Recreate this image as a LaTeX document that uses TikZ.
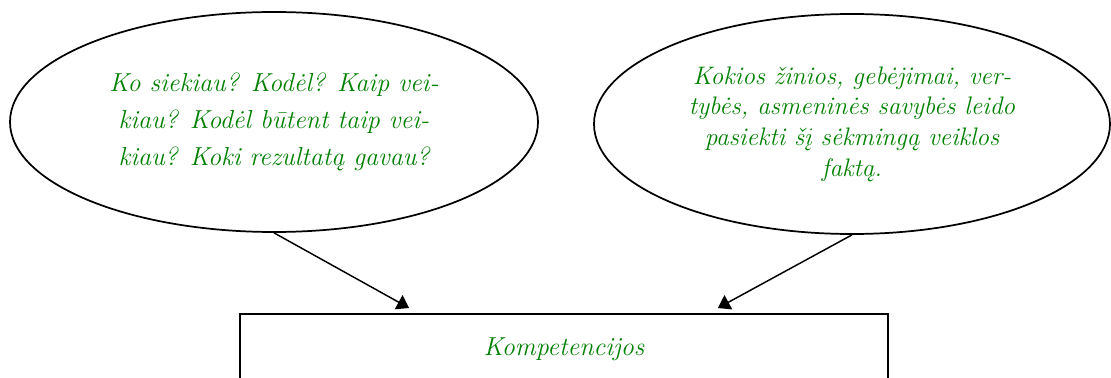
\documentclass[tikz,border=0pt]{standalone}
\usepackage{fontspec}
\usetikzlibrary{shapes.geometric, arrows.meta, positioning, calc}
\definecolor{textgreen}{RGB}{0, 128, 0}

\begin{document}
\begin{tikzpicture}[
        x=0.75pt, y=-0.75pt,
        bubble/.style={ellipse, draw=black, line width=1.3pt, inner sep=0pt, minimum height=165pt, align=center, text=textgreen, font=\itshape\fontsize{19.5}{28}\selectfont},
        frame/.style={rectangle, draw=black, line width=1.3pt, inner sep=0pt, anchor=north, text=textgreen, font=\itshape\fontsize{19.5}{23}\selectfont},
        arrow/.style={-{Triangle[width=12pt, length=9pt]}, line width=1.1pt, draw=black}
    ]
        \useasboundingbox (0,0) rectangle (1111,378);
        \clip (0,0) rectangle (1111,378);

        % Row 1
        \node (goal) [bubble, minimum width=396pt] at (274,122) {Ko siekiau? Kodėl? Kaip vei-\\kiau? Kodėl būtent taip vei-\\kiau? Koki rezultatą gavau?};
        \node (basis) [bubble, minimum width=387pt, font=\itshape\fontsize{19}{23}\selectfont] at (852,124) {Kokios žinios, gebėjimai, ver-\\tybės, asmeninės savybės leido\\pasiekti šį sėkmingą veiklos\\faktą.};

        % Row 2
        \node (comp) [frame, minimum width=486pt, text height=31.5pt, text depth=120pt] at (564,313) {Kompetencijos};

        % Connecting Arrows
        \draw [arrow] (goal.south) -- ($(comp.north west)+(170,-5)$);
        \draw [arrow] (basis.south) -- ($(comp.north east)+(-171,-5)$);
\end{tikzpicture}
\end{document}
